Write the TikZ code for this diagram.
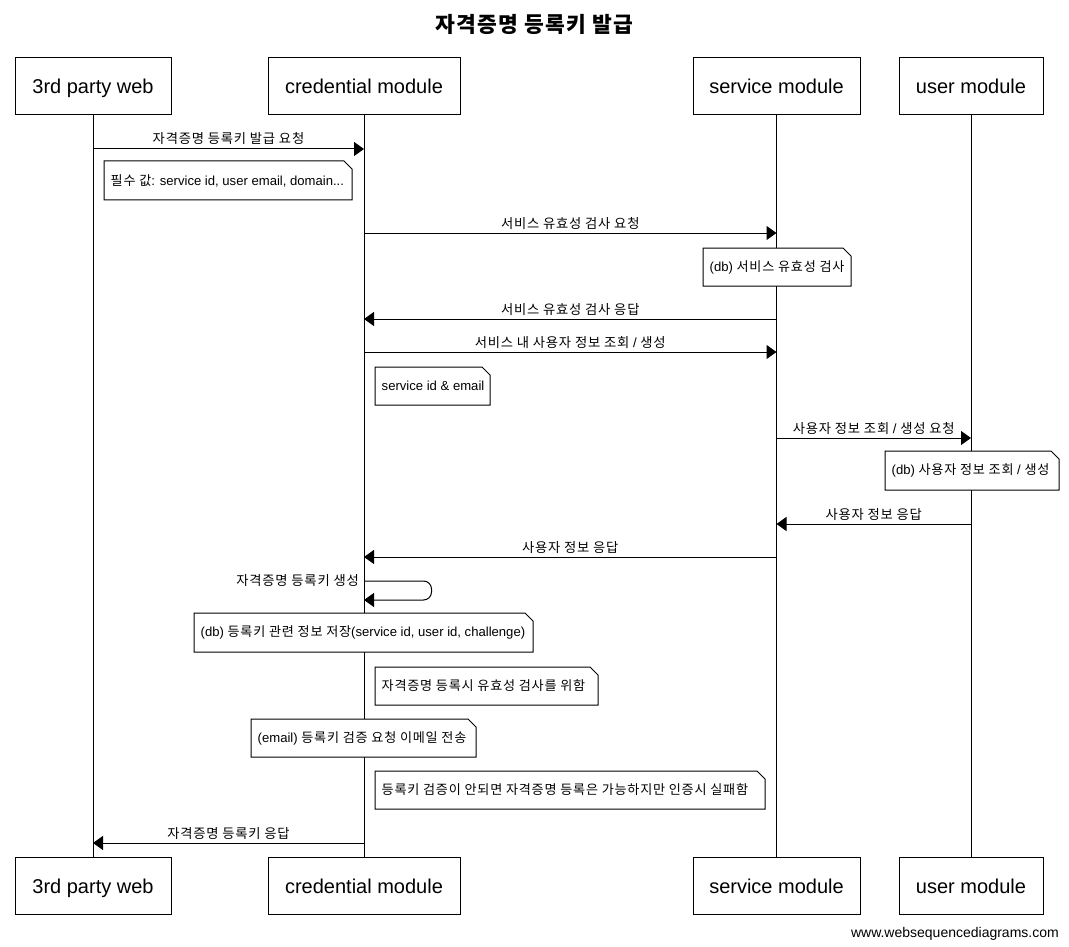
\documentclass[tikz,border=0pt]{standalone}
\usepackage{fontspec}
\setmainfont{Liberation Sans}
\newfontfamily\krfont[LetterSpace=6]{Noto Sans CJK KR}
\newcommand\K[1]{{\krfont#1}}
\usetikzlibrary{arrows.meta}

\tikzset{
  actor/.style={draw, line width=1pt, fill=white, inner sep=0pt, outer sep=0pt,
    minimum height=57pt, text height=19pt, text depth=4pt,
    font=\fontsize{20}{24}\selectfont},
  lifeline/.style={line width=1pt},
  msgline/.style={line width=1pt, -{Triangle[length=10pt,width=14pt]}},
  msglabel/.style={midway, anchor=base, yshift=5pt, inner sep=0pt,
    font=\fontsize{13.3}{16}\selectfont},
  notepath/.style={draw, line width=1pt, fill=white},
  notetext/.style={anchor=west, inner sep=0pt, font=\fontsize{13.1}{16}\selectfont},
}

% note with a folded corner: name, x1, y1, x2, y2, text
\newcommand\drawnote[6]{%
  \draw[notepath] (#2,#3) -- (#4-8,#3) -- (#4,#3+8) -- (#4,#5) -- (#2,#5) -- cycle;
  \node[notetext] (#1) at (#2+6.5,{(#3+#5)/2}) {#6};
}
% message between two lifelines: name, y, x from, x to, label
\newcommand\sendmsg[5]{%
  \coordinate (#1-s) at (#3,#2);
  \coordinate (#1-e) at (#4,#2);
  \draw[msgline] (#1-s) -- (#1-e) node[msglabel] {#5};
}

\begin{document}
\begin{tikzpicture}[x=1pt,y=-1pt]
\fill[white] (0,0) rectangle (1069,947);
\useasboundingbox (0,0) rectangle (1069,947);

% title
\node[font=\fontsize{21.5}{26}\selectfont\bfseries] (title) at (534.5,24)
  {\krfont\addfontfeatures{LetterSpace=6}자격증명 등록키 발급};

% participants
\node[actor, minimum width=156pt] (webT)  at (93,86.5)    {3rd party web};
\node[actor, minimum width=192pt] (credT) at (364,86.5)   {credential module};
\node[actor, minimum width=167pt] (svcT)  at (776.5,86.5) {service module};
\node[actor, minimum width=144pt] (usrT)  at (971,86.5)   {user module};

\node[actor, minimum width=156pt] (webB)  at (93,885.5)    {3rd party web};
\node[actor, minimum width=192pt] (credB) at (364,885.5)   {credential module};
\node[actor, minimum width=167pt] (svcB)  at (776.5,885.5) {service module};
\node[actor, minimum width=144pt] (usrB)  at (971,885.5)   {user module};

% lifelines
\draw[lifeline] (webT.south)  -- (webB.north);
\draw[lifeline] (credT.south) -- (credB.north);
\draw[lifeline] (svcT.south)  -- (svcB.north);
\draw[lifeline] (usrT.south)  -- (usrB.north);

% messages
\sendmsg{m1}{149}{93}{364}{\K{자격증명 등록키 발급 요청}}
\drawnote{n1}{104}{161}{352}{200}{\K{필수 값}: service id, user email, domain...}

\sendmsg{m2}{233}{364}{776.5}{\K{서비스 유효성 검사 요청}}
\drawnote{n2}{703}{248}{851}{286}{(db) \K{서비스 유효성 검사}}

\sendmsg{m3}{319}{776.5}{364}{\K{서비스 유효성 검사 응답}}
\sendmsg{m4}{352}{364}{776.5}{\K{서비스 내 사용자 정보 조회} / \K{생성}}
\drawnote{n3}{375}{367}{490}{405}{service id \& email}

\sendmsg{m5}{438}{776.5}{971}{\K{사용자 정보 조회} / \K{생성 요청}}
\drawnote{n4}{885}{451}{1059}{490}{(db) \K{사용자 정보 조회} / \K{생성}}

\sendmsg{m6}{524}{971}{776.5}{\K{사용자 정보 응답}}
\sendmsg{m7}{557}{776.5}{364}{\K{사용자 정보 응답}}

% self call on the credential module
\coordinate (self-s) at (364,581);
\coordinate (self-e) at (364,600);
\draw[msgline, rounded corners=8pt] (self-s) -- (431.5,581) -- (431.5,600) -- (self-e);
\node[anchor=base east, inner sep=0pt, font=\fontsize{13.3}{16}\selectfont] (selflbl)
  at (359,585) {\K{자격증명 등록키 생성}};

\drawnote{n5}{194}{613}{533}{652}{(db) \K{등록키 관련 정보 저장}(service id, user id, challenge)}
\drawnote{n6}{375}{667}{598}{705}{\K{자격증명 등록시 유효성 검사를 위함}}
\drawnote{n7}{251}{719}{476}{757}{(email) \K{등록키 검증 요청 이메일 전송}}
\drawnote{n8}{375}{771}{765}{809}{\K{등록키 검증이 안되면 자격증명 등록은 가능하지만 인증시 실패함}}

\sendmsg{m8}{843}{364}{93}{\K{자격증명 등록키 응답}}

% footer
\node[anchor=base east, inner sep=0pt, font=\fontsize{14}{17}\selectfont] (url)
  at (1059,937) {www.websequencediagrams.com};
\end{tikzpicture}
\end{document}
